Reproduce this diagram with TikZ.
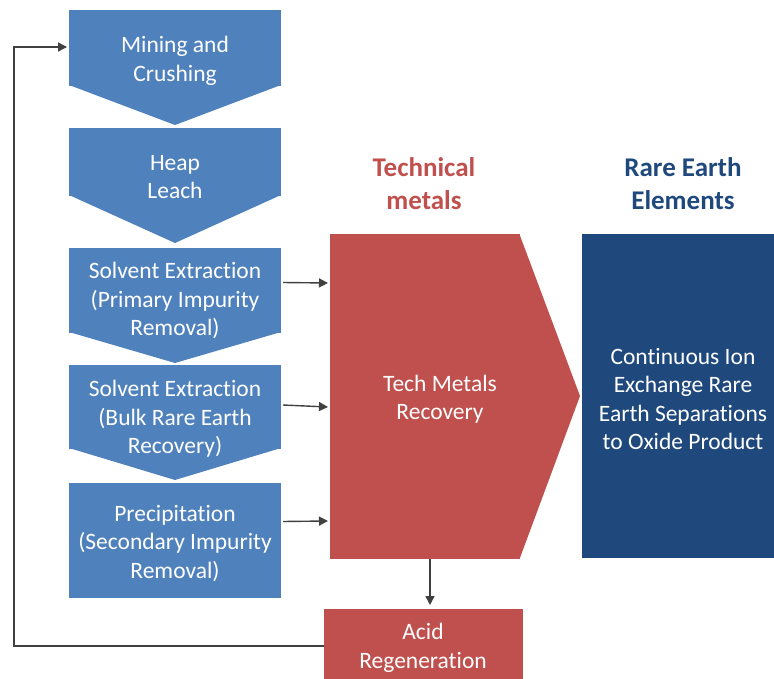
\documentclass[tikz,border=0pt]{standalone}
\usepackage{fontspec}
\setmainfont{Carlito}[Ligatures=NoCommon]
\usetikzlibrary{arrows.meta,positioning,calc}

\definecolor{stepblue}{HTML}{4F81BD}
\definecolor{techred}{HTML}{C0504D}
\definecolor{reeblue}{HTML}{1F497D}
\definecolor{arrowgrey}{HTML}{404040}

\tikzset{
  stepbox/.style={fill=stepblue, minimum width=212, inner sep=0, outer sep=0},
  boxtext/.style={text=white, align=center, font=\fontsize{23.5}{28.5}\selectfont},
  headtext/.style={align=center, font=\fontsize{27}{33}\selectfont\bfseries},
  flow/.style={draw=arrowgrey, line width=1.4pt, -{Triangle[length=9pt,width=9pt]}},
}

\begin{document}
\begin{tikzpicture}[x=1pt,y=-1pt]
  \useasboundingbox (0,0) rectangle (774,679);
  \clip (0,0) rectangle (774,679);

  % blue process steps
  \node[stepbox, minimum height=76, anchor=north] (mine) at (175,10) {};
  \fill[stepblue] ([yshift=1pt]mine.south west) -- ([yshift=1pt]mine.south east) -- ($(mine.south)+(0,39)$) -- cycle;
  \node[boxtext] (mineTxt) at ([yshift=-13pt]mine.center) {Mining and\\Crushing};

  \node[stepbox, minimum height=68, anchor=north] (heap) at (175,128) {};
  \fill[stepblue] ([yshift=1pt]heap.south west) -- ([yshift=1pt]heap.south east) -- ($(heap.south)+(0,47)$) -- cycle;
  \node[boxtext] (heapTxt) at ([yshift=-15pt]heap.center) {Heap\\Leach};

  \node[stepbox, minimum height=85, anchor=north] (solvA) at (175,248) {};
  \fill[stepblue] ([yshift=1pt]solvA.south west) -- ([yshift=1pt]solvA.south east) -- ($(solvA.south)+(0,30)$) -- cycle;
  \node[boxtext] (solvATxt) at ([yshift=-10pt]solvA.center) {Solvent Extraction\\(Primary Impurity\\Removal)};

  \node[stepbox, minimum height=84, anchor=north] (solvB) at (175,365) {};
  \fill[stepblue] ([yshift=1pt]solvB.south west) -- ([yshift=1pt]solvB.south east) -- ($(solvB.south)+(0,31)$) -- cycle;
  \node[boxtext] (solvBTxt) at ([yshift=-12pt]solvB.center) {Solvent Extraction\\(Bulk Rare Earth\\Recovery)};

  \node[stepbox, minimum height=115, anchor=north] (precip) at (175,483) {};
  \node[boxtext] (precipTxt) at ([yshift=-3pt]precip.center) {Precipitation\\(Secondary Impurity\\Removal)};

  % tech metals
  \node[headtext, text=techred] (techHead) at (424,184) {Technical\\metals};
  \node[fill=techred, minimum width=190, minimum height=325, inner sep=0, anchor=north west] (tech) at (330,234) {};
  \fill[techred] ([xshift=-1pt]tech.north east) -- (580,396) -- ([xshift=-1pt]tech.south east) -- cycle;
  \node[boxtext] (techTxt) at (440,399) {Tech Metals\\Recovery};

  % rare earth separations
  \node[headtext, text=reeblue] (reeHead) at (683,184) {Rare Earth\\Elements};
  \node[fill=reeblue, minimum width=200, minimum height=324, inner sep=0, anchor=north west] (ree) at (582,234) {};
  \node[boxtext] (reeTxt) at (683,399) {Continuous Ion\\Exchange Rare\\Earth Separations\\to Oxide Product};

  % acid regeneration
  \node[fill=techred, minimum width=199, minimum height=80, inner sep=0, anchor=north west] (acid) at (324,609) {};
  \node[boxtext] (acidTxt) at (423,648) {Acid\\Regeneration};

  % connectors
  \draw[flow] ([shift={(2pt,8pt)}]solvA.east) -- ([shift={(-2pt,0pt)}]tech.west |- 0,283);
  \draw[flow] ([shift={(2pt,2pt)}]solvB.east) -- ([shift={(-2pt,0pt)}]tech.west |- 0,407);
  \draw[flow] ([shift={(2pt,19pt)}]precip.east) -- ([shift={(-2pt,0pt)}]tech.west |- 0,521);
  \draw[flow] (tech.south -| 430,0) -- ([yshift=4pt]acid.north -| 430,0);
  \coordinate (loopL) at (14,646);
  \draw[flow] (acid.west |- loopL) -- (loopL) |- ([xshift=-2pt]mine.west |- 0,47);
\end{tikzpicture}
\end{document}
